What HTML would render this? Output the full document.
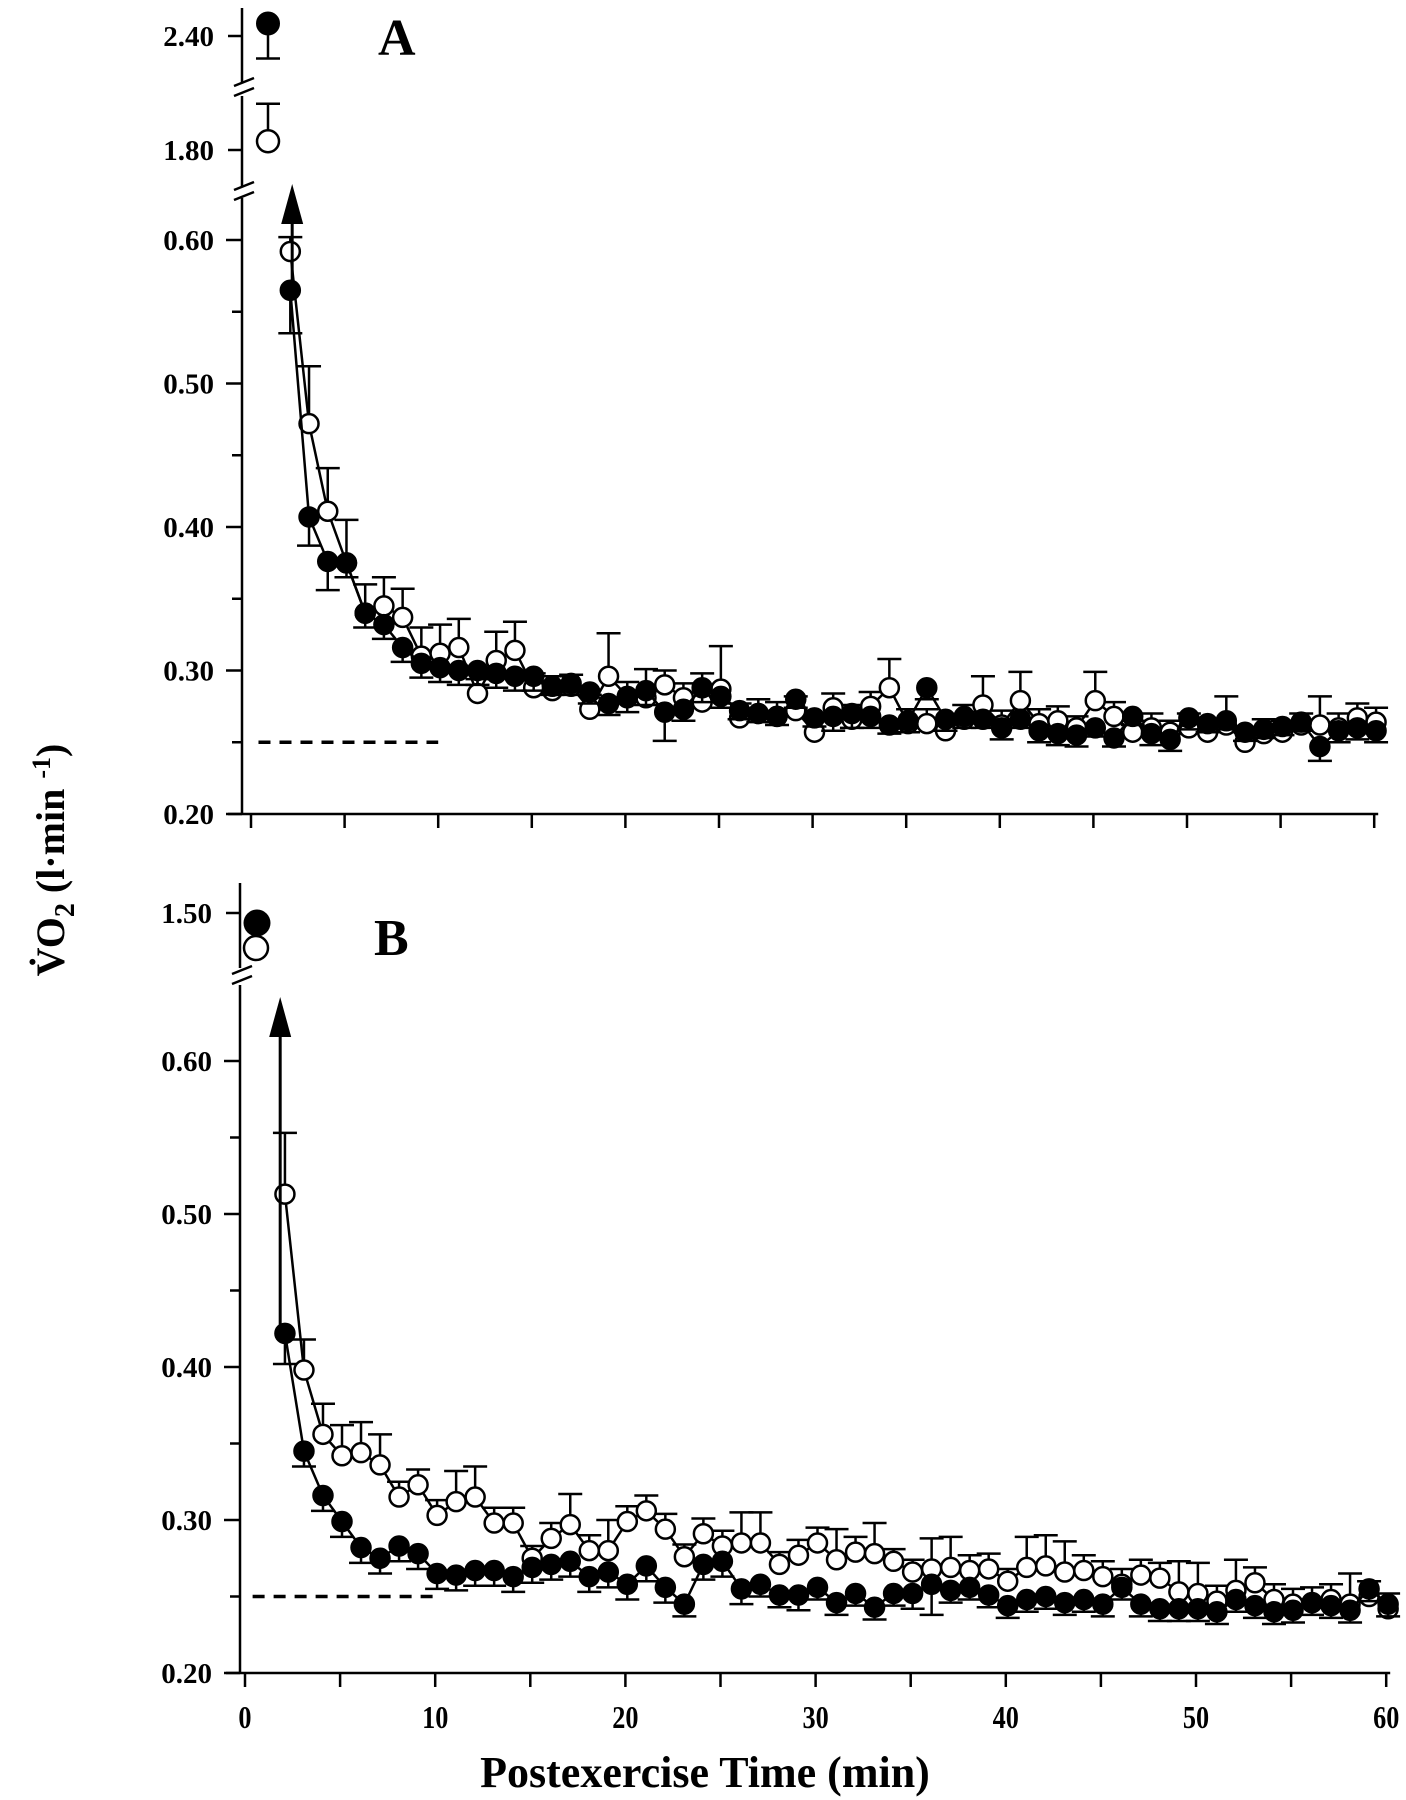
<!DOCTYPE html>
<html><head><meta charset="utf-8"><style>
html,body{margin:0;padding:0;background:#fff}
svg{display:block}
text{font-family:"Liberation Serif",serif;font-weight:bold;fill:#000}
</style></head><body>
<svg id="chart" width="1406" height="1800" viewBox="0 0 1406 1800" xmlns="http://www.w3.org/2000/svg"></svg>
<script>
const minutes = [];
for (let m = 2; m <= 60; m++) minutes.push(m);
const aFilled = [0.565,0.407,0.376,0.375,0.340,0.332,0.316,0.305,0.302,0.300,0.300,0.298,0.296,0.296,0.289,0.291,0.285,0.277,0.281,0.286,0.271,0.273,0.288,0.282,0.272,0.270,0.268,0.280,0.267,0.268,0.270,0.268,0.262,0.265,0.288,0.266,0.268,0.266,0.260,0.266,0.258,0.256,0.255,0.260,0.253,0.268,0.256,0.252,0.267,0.263,0.265,0.257,0.259,0.261,0.264,0.247,0.258,0.260,0.258];
const aOpen = [0.592,0.472,0.411,0.375,0.340,0.345,0.337,0.310,0.312,0.316,0.284,0.307,0.314,0.288,0.286,0.289,0.273,0.296,0.282,0.281,0.290,0.281,0.278,0.287,0.267,0.270,0.268,0.272,0.257,0.274,0.266,0.275,0.288,0.263,0.263,0.258,0.266,0.276,0.262,0.279,0.263,0.265,0.260,0.279,0.268,0.257,0.260,0.257,0.260,0.257,0.262,0.250,0.256,0.257,0.262,0.262,0.260,0.267,0.264];
const aFilledErr = [0.03,0.02,0.02,0.01,0.01,0.01,0.01,0.01,0.01,0.01,0.01,0.01,0.01,0.01,0.006,0.008,0.008,0.008,0.01,0.01,0.02,0.008,0.01,0.008,0.006,0.006,0.006,0.006,0.006,0.01,0.01,0.008,0.006,0.008,0.008,0.008,0.008,0.006,0.008,0.006,0.008,0.008,0.008,0.006,0.006,0.006,0.008,0.008,0.008,0.006,0.006,0.006,0.006,0.006,0.006,0.01,0.008,0.008,0.008];
const aOpenErr = [0.01,0.04,0.03,0.03,0.02,0.02,0.02,0.02,0.02,0.02,0.01,0.02,0.02,0.01,0.01,0.008,0.01,0.03,0.01,0.02,0.01,0.01,0.02,0.03,0.01,0.01,0.01,0.01,0.01,0.01,0.01,0.01,0.02,0.01,0.01,0.008,0.01,0.02,0.01,0.02,0.01,0.01,0.008,0.02,0.01,0.008,0.01,0.008,0.01,0.008,0.02,0.01,0.01,0.008,0.008,0.02,0.01,0.01,0.01];
const bFilled = [0.422,0.345,0.316,0.299,0.282,0.275,0.283,0.278,0.265,0.264,0.267,0.267,0.263,0.269,0.271,0.273,0.263,0.266,0.258,0.270,0.256,0.245,0.271,0.273,0.255,0.258,0.251,0.251,0.256,0.246,0.252,0.243,0.252,0.252,0.258,0.254,0.256,0.251,0.244,0.248,0.250,0.246,0.248,0.245,0.256,0.245,0.242,0.242,0.242,0.240,0.248,0.244,0.240,0.241,0.246,0.244,0.241,0.255,0.245];
const bOpen = [0.513,0.398,0.356,0.342,0.344,0.336,0.315,0.323,0.303,0.312,0.315,0.298,0.298,0.275,0.288,0.297,0.280,0.280,0.299,0.306,0.294,0.276,0.291,0.283,0.285,0.285,0.271,0.277,0.285,0.274,0.279,0.278,0.273,0.266,0.268,0.269,0.267,0.268,0.260,0.269,0.270,0.266,0.267,0.263,0.258,0.264,0.262,0.253,0.252,0.247,0.254,0.259,0.248,0.245,0.246,0.248,0.245,0.250,0.242];
const bFilledErr = [0.02,0.01,0.01,0.01,0.01,0.01,0.01,0.01,0.01,0.01,0.01,0.01,0.01,0.01,0.01,0.01,0.01,0.01,0.01,0.01,0.01,0.008,0.01,0.01,0.01,0.008,0.008,0.01,0.008,0.008,0.008,0.008,0.008,0.01,0.02,0.008,0.008,0.008,0.008,0.008,0.008,0.008,0.008,0.008,0.008,0.008,0.008,0.008,0.008,0.008,0.008,0.008,0.008,0.008,0.008,0.008,0.008,0.008,0.008];
const bOpenErr = [0.04,0.02,0.02,0.02,0.02,0.02,0.01,0.01,0.01,0.02,0.02,0.01,0.01,0.008,0.01,0.02,0.01,0.02,0.01,0.01,0.01,0.008,0.01,0.01,0.02,0.02,0.008,0.01,0.01,0.02,0.01,0.02,0.008,0.008,0.02,0.02,0.01,0.01,0.008,0.02,0.02,0.02,0.01,0.01,0.01,0.01,0.01,0.02,0.02,0.01,0.02,0.01,0.01,0.01,0.01,0.01,0.02,0.01,0.01];
const mainTicks = ["0.20","0.30","0.40","0.50","0.60"];
const xTickLabels = ["0","10","20","30","40","50","60"];
// break points (early values at ~1 min)
const aEarlyFilled = 2.45, aEarlyOpen = 1.835, aEarlyFilledErr = 0.14, aEarlyOpenErr = 0.15;
const bEarlyFilled = 1.46, bEarlyOpen = 1.36;

const NS = "http://www.w3.org/2000/svg";
const svg = document.getElementById('chart');
function el(tag, attrs, parent, text) {
  const e = document.createElementNS(NS, tag);
  for (const k in attrs) e.setAttribute(k, attrs[k]);
  if (text !== undefined) e.textContent = text;
  (parent || svg).appendChild(e);
  return e;
}
function line(x1,y1,x2,y2,w,name,g){const l=el('line',{x1,y1,x2,y2,stroke:'#000','stroke-width':w||2.5},g);

return l;}

function panel(cfg) {
  const g = el('g', {});
  
  
  const xs = m => cfg.x0 + m * cfg.xpm;
  const ys = v => cfg.y20 - (v - 0.20) * cfg.ypu;
  // y axis main segment
  line(cfg.ax, cfg.breakLow, cfg.ax, cfg.y20, 2.5, 'y-axis', g);
  // y ticks
  for (let i = 0; i <= 8; i++) {
    const v = 0.20 + i * 0.05, y = ys(v);
    line(cfg.ax - (i % 2 ? 10 : 16), y, cfg.ax, y, 2.5, 'y-tick', g);
    if (i % 2 === 0) {
      const t = el('text', {x: cfg.ax - 28, y: y + 10, 'font-size': 29, 'text-anchor': 'end'}, g, mainTicks[i/2]);
      
      
    }
  }
  // x axis
  line(cfg.ax - 14, cfg.y20, cfg.x0 + 60*cfg.xpm + 4, cfg.y20, 2.5, 'x-axis', g);
  for (let m = 0; m <= 60; m += 5) line(xs(m), cfg.y20, xs(m), cfg.y20 + 14, 2.5, 'x-tick', g);
  if (cfg.labels) xTickLabels.forEach((s, i) => {
    const t = el('text', {x: xs(i*10), y: cfg.y20 + 55, 'font-size': 32, 'text-anchor': 'middle', transform: `translate(${xs(i*10)},0) scale(0.82,1) translate(${-xs(i*10)},0)`}, g, s);
    
    
  });
  // dashed baseline
  const d = el('line', {x1: xs(0.4), y1: ys(0.25), x2: xs(10), y2: ys(0.25), stroke: '#000', 'stroke-width': 3.5, 'stroke-dasharray': '12,9'}, g);
  
  
  // series
  function series(vals, errs, filled, nm, up) {
    const pts = vals.map((v, i) => xs(minutes[i] + 0.1) + ',' + ys(v)).join(' ');
    const pl = el('polyline', {points: pts, fill: 'none', stroke: '#000', 'stroke-width': 2.5}, g);
    
    
    vals.forEach((v, i) => {
      const x = xs(minutes[i] + 0.1), y = ys(v), e = ys(v + (up ? errs[i] : -errs[i]));
      line(x, y, x, e, 2.5, nm + '-error-bar', g);
      line(x - 12, e, x + 12, e, 2.5, nm + '-error-cap', g);
    });
    vals.forEach((v, i) => {
      const c = el('circle', {cx: xs(minutes[i] + 0.1), cy: ys(v), r: 9.5, fill: filled ? '#000' : '#fff', stroke: '#000', 'stroke-width': 2.5}, g);
      
      
    });
  }
  series(cfg.open, cfg.openErr, false, 'open', true);
  series(cfg.filled, cfg.filledErr, true, 'filled', false);
  // arrow
  const axx = xs(cfg.arrowX);
  line(axx, ys(cfg.filled[0]), axx, cfg.arrowTop + 30, 3, 'arrow-shaft', g);
  const ah = el('polygon', {points: `${axx},${cfg.arrowTop} ${axx-11},${cfg.arrowTop+40} ${axx+11},${cfg.arrowTop+40}`, fill: '#000'}, g);
  
  
  // panel letter
  const L = el('text', {x: cfg.letterX, y: cfg.letterY, 'font-size': 52}, g, cfg.letter);
  
  
  return {g, xs, ys};
}

function brk(x, y, g) {
  line(x - 10, y + 2, x + 10, y - 6, 2.5, 'axis-break', g);
  line(x - 10, y + 12, x + 10, y + 4, 2.5, 'axis-break', g);
}

// Panel A
const A = panel({name: 'panel-a', x0: 251, xpm: 18.72, y20: 814, ypu: 1435, ax: 242,
  filled: aFilled, open: aOpen, filledErr: aFilledErr, openErr: aOpenErr,
  breakLow: 198, arrowX: 2.2, arrowTop: 184, letter: 'A', letterX: 378, letterY: 55, labels: false});
// upper segments A
line(242, 8, 242, 82, 2.5, 'y-axis-upper', A.g);
line(242, 96, 242, 186, 2.5, 'y-axis-upper', A.g);
brk(244, 84, A.g); brk(244, 188, A.g);
line(228, 36, 242, 36, 2.5, 'y-tick', A.g);
line(228, 150, 242, 150, 2.5, 'y-tick', A.g);
[["2.40",36],["1.80",150]].forEach(([s,y])=>{const t=el('text',{x:214,y:y+10,'font-size':29,'text-anchor':'end'},A.g,s);

});
const upA = v => 36 - (v - 2.40) * 250;
const upA2 = v => 150 - (v - 1.80) * 250;
line(268, upA(aEarlyFilled), 268, upA(aEarlyFilled - aEarlyFilledErr), 2.5, 'filled-error-bar', A.g);
line(256, upA(aEarlyFilled - aEarlyFilledErr), 280, upA(aEarlyFilled - aEarlyFilledErr), 2.5, 'filled-error-cap', A.g);
line(268, upA2(aEarlyOpen), 268, upA2(aEarlyOpen + aEarlyOpenErr), 2.5, 'open-error-bar', A.g);
line(256, upA2(aEarlyOpen + aEarlyOpenErr), 280, upA2(aEarlyOpen + aEarlyOpenErr), 2.5, 'open-error-cap', A.g);
let c = el('circle', {cx: 268, cy: upA(aEarlyFilled), r: 11, fill: '#000', stroke: '#000', 'stroke-width': 2}, A.g);


c = el('circle', {cx: 268, cy: upA2(aEarlyOpen), r: 11, fill: '#fff', stroke: '#000', 'stroke-width': 2.5}, A.g);



// Panel B
const B = panel({name: 'panel-b', x0: 245, xpm: 19.02, y20: 1673, ypu: 1530, ax: 240,
  filled: bFilled, open: bOpen, filledErr: bFilledErr, openErr: bOpenErr,
  breakLow: 985, arrowX: 1.85, arrowTop: 997, letter: 'B', letterX: 374, letterY: 955, labels: true});
line(240, 883, 240, 968, 2.5, 'y-axis-upper', B.g);
brk(242, 972, B.g);
line(226, 913, 240, 913, 2.5, 'y-tick', B.g);
let t = el('text', {x: 212, y: 923, 'font-size': 29, 'text-anchor': 'end'}, B.g, '1.50');


const upB = v => 913 - (v - 1.50) * 250;
c = el('circle', {cx: 257, cy: upB(bEarlyFilled), r: 13.5, fill: '#000'}, B.g);


c = el('circle', {cx: 256, cy: upB(bEarlyOpen), r: 12, fill: '#fff', stroke: '#000', 'stroke-width': 2.5}, B.g);



// axis titles
t = el('text', {x: 705, y: 1787, 'font-size': 44, 'text-anchor': 'middle'}, svg, 'Postexercise Time (min)');


const yt = el('text', {x: 0, y: 0, 'font-size': 40, 'text-anchor': 'middle', transform: 'translate(64,860) rotate(-90)'}, svg);


yt.innerHTML = 'V\u0307O<tspan font-size="28" dy="10">2</tspan><tspan dy="-10"> (l·min </tspan><tspan font-size="26" dy="-14">-1</tspan><tspan dy="14">)</tspan>';
</script>
</body></html>
